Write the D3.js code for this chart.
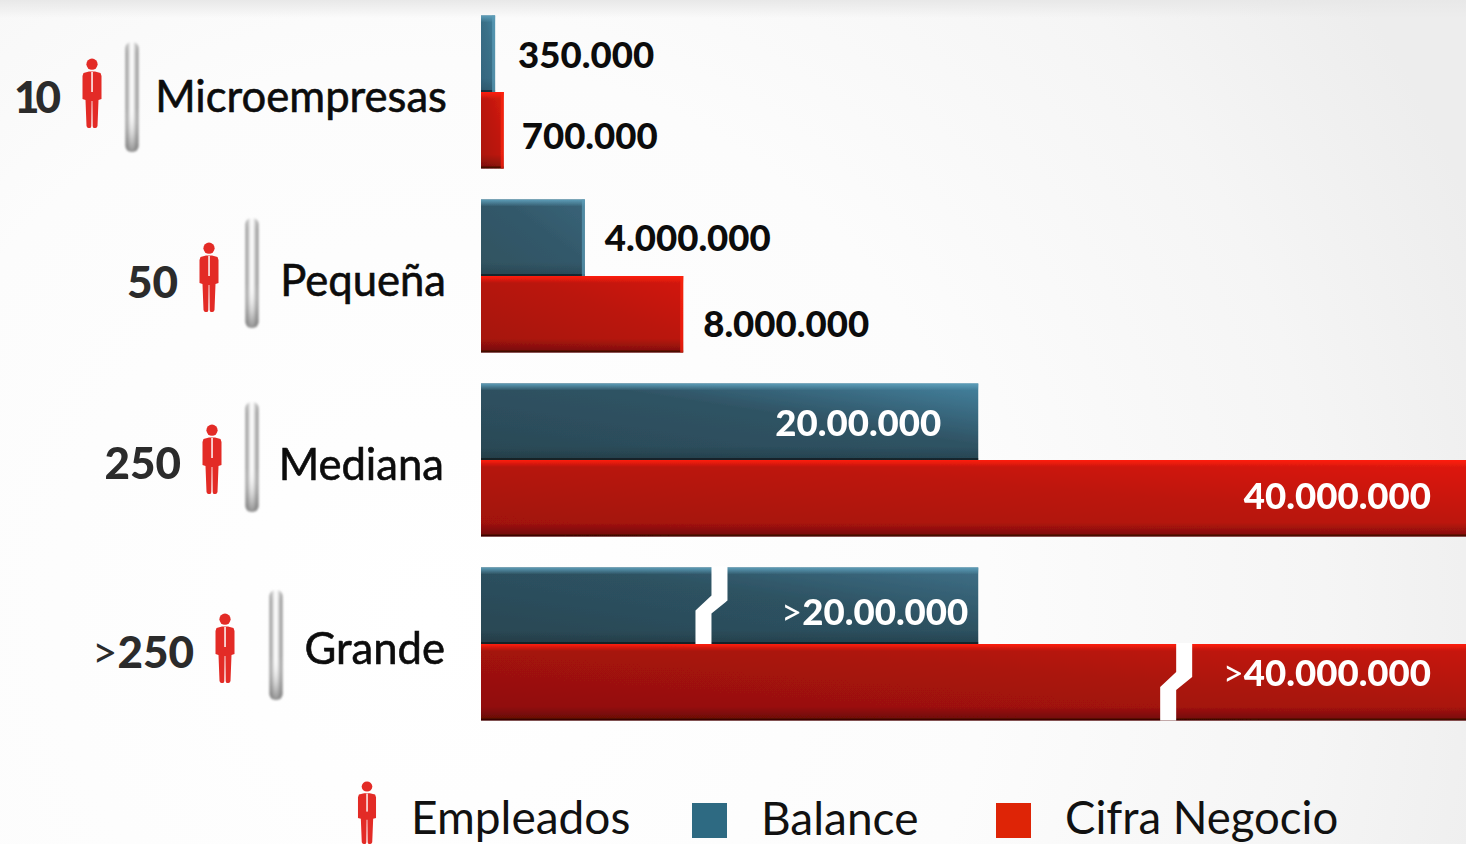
<!DOCTYPE html>
<html lang="es"><head><meta charset="utf-8">
<script src="https://cdn.jsdelivr.net/npm/d3@7/dist/d3.min.js"></script>
<style>
html,body{margin:0;padding:0;background:#fff;overflow:hidden}
svg{display:block}
text{font-family:Lato,"Open Sans",sans-serif}
</style></head><body><svg id="c" width="1466" height="844"></svg>
<script>
// ---- data ----
const categories = ["Microempresas","Pequeña","Mediana","Grande"];
const employeeLabels = ["10","50","250",">250"];
const balanceValues = [350000,4000000,20000000,20000000];
const turnoverValues = [700000,8000000,40000000,40000000];
const balanceLabels = ["350.000","4.000.000","20.00.000",">20.00.000"];
const turnoverLabels = ["700.000","8.000.000","40.000.000",">40.000.000"];
const breakBalance = [null,null,null,9150000];
const breakTurnover = [null,null,null,28050000];
const legendItems = ["Empleados","Balance","Cifra Negocio"];

// ---- layout and style ----
const W=1466,H=844;
const baseX=481;
const personX=[92,209,212,225], pillX=[132,252,252,276];
const countEnd=[57,178,181,194], labelEnd=[447,446,444,445], countSpacing=[-4,0,0,0];
const countDy=[5,6,3,8], personDy=[0,0,-2,3], pillDy=[-50,-58,-58,-54];
const balGap=[23,20,-37,-10], turnGap=[18,20,-39,-39];
const balDy=[-37,-38,-37,-32], turnDy=[44,48,36,29];
const blueStops=[["#34647d","#3a7088","#40829f"],["#30525f","#33596b","#396479"],["#2a4854","#2f5364","#44829f"],["#2a4652","#2d5262","#3f7088"]];
const redStops=[["#a8150a","#c0180b","#d81c0c"],["#a2130a","#bb160b","#d4190c"],["#9c1109","#bd150a","#e2190c"],["#8c0f08","#ab130a","#cb170b"]];
const BLUE="#2e6a82", RED="#de2406", PERSON="#e32b26";

const x=d3.scaleLinear().domain([0,40000000]).range([486.5,1470]);
const y=d3.scaleBand().domain(categories).range([0,736]).paddingInner(0).paddingOuter(0);
const rowMid=c=>y(c)+y.bandwidth()/2;
const barH=76.5;

const svg=d3.select("#c");
const defs=svg.append("defs");

const bg=defs.append("radialGradient").attr("id","bg").attr("gradientUnits","userSpaceOnUse")
  .attr("cx",430).attr("cy",620).attr("r",1120);
[[0,"#ffffff"],[.5,"#fcfcfc"],[.8,"#f5f5f5"],[1,"#ededed"]].forEach(s=>bg.append("stop").attr("offset",s[0]).attr("stop-color",s[1]));
svg.append("rect").attr("width",W).attr("height",H).attr("fill","url(#bg)");
const topFade=defs.append("linearGradient").attr("id","topFade").attr("x1",0).attr("x2",0).attr("y1",0).attr("y2",1);
topFade.append("stop").attr("offset",0).attr("stop-color","#e8e8e8");
topFade.append("stop").attr("offset",1).attr("stop-color","#e8e8e8").attr("stop-opacity",0);
svg.append("rect").attr("width",W).attr("height",18).attr("fill","url(#topFade)");

const soft=defs.append("filter").attr("id","soft").attr("x","-10%").attr("y","-10%").attr("width","120%").attr("height","120%");
soft.append("feGaussianBlur").attr("stdDeviation",0.6);
const pillBlur=defs.append("filter").attr("id","pillBlur").attr("x","-60%").attr("y","-10%").attr("width","220%").attr("height","120%");
pillBlur.append("feGaussianBlur").attr("stdDeviation",1.1);

function grad(id,stops){
  const g=defs.append("linearGradient").attr("id",id).attr("x1",0).attr("y1",1).attr("x2",1).attr("y2",0);
  g.append("stop").attr("offset",0).attr("stop-color",stops[0]);
  g.append("stop").attr("offset",.6).attr("stop-color",stops[1]);
  g.append("stop").attr("offset",1).attr("stop-color",stops[2]);
}
categories.forEach((c,i)=>{grad("b"+i,blueStops[i]);grad("r"+i,redStops[i]);});

const shadeBlue=defs.append("linearGradient").attr("id","topBlue").attr("x1",0).attr("x2",0).attr("y1",0).attr("y2",1);
shadeBlue.append("stop").attr("offset",0).attr("stop-color","#5d9db8");
shadeBlue.append("stop").attr("offset",1).attr("stop-color","#5d9db8").attr("stop-opacity",0);
const shadeRed=defs.append("linearGradient").attr("id","topRed").attr("x1",0).attr("x2",0).attr("y1",0).attr("y2",1);
shadeRed.append("stop").attr("offset",0).attr("stop-color","#ff1e0c");
shadeRed.append("stop").attr("offset",1).attr("stop-color","#ff1e0c").attr("stop-opacity",0);
const shadeLow=defs.append("linearGradient").attr("id","low").attr("x1",0).attr("x2",0).attr("y1",0).attr("y2",1);
shadeLow.append("stop").attr("offset",0).attr("stop-color","#000").attr("stop-opacity",0);
shadeLow.append("stop").attr("offset",1).attr("stop-color","#000").attr("stop-opacity",.55);

// pill gradients
const pillH=defs.append("linearGradient").attr("id","pill").attr("x1",0).attr("x2",1).attr("y1",0).attr("y2",0);
[[0,"#8a8a8a"],[.2,"#bdbdbd"],[.38,"#f4f4f4"],[.55,"#ffffff"],[.75,"#c4c4c4"],[1,"#868686"]].forEach(s=>pillH.append("stop").attr("offset",s[0]).attr("stop-color",s[1]));
const pillV=defs.append("linearGradient").attr("id","pillV").attr("x1",0).attr("x2",0).attr("y1",0).attr("y2",1);
[[0,"#fff",.25],[.1,"#fff",0],[.6,"#fff",0],[.85,"#888",.35],[1,"#777",.8]].forEach(s=>pillV.append("stop").attr("offset",s[0]).attr("stop-color",s[1]).attr("stop-opacity",s[2]));

// person symbol, 22 wide, 70 tall
const personBody="M2.5 15 L8 13.5 H14 L19.5 15 L20.5 18 V41 L17.5 42 L16.5 68 Q16 70 14.5 70 H13 Q11.8 70 11.7 68 L11.4 43 H10.6 L10.3 68 Q10.2 70 9 70 H7.5 Q6 70 5.5 68 L4.5 42 L1.5 41 V18 Z";
function person(g,cx,top,k,kx){
  const p=g.append("g").attr("transform",`translate(${cx-11*(kx||k)},${top}) scale(${kx||k},${k})`);
  p.append("circle").attr("cx",11).attr("cy",6.2).attr("r",5.6).attr("fill",PERSON);
  p.append("path").attr("d",personBody).attr("fill",PERSON);
  p.append("rect").attr("x",10.2).attr("y",14).attr("width",1.7).attr("height",20).attr("fill","#fbe3e2");
}

// rows
categories.forEach((c,i)=>{
  const m=rowMid(c), g=svg.append("g");
  const val=[balanceValues[i],turnoverValues[i]];
  const top=[m-barH,m], ids=["b"+i,"r"+i], hi=["topBlue","topRed"];
  const labelsTxt=[balanceLabels[i],turnoverLabels[i]];
  const gaps=[balGap[i],turnGap[i]], dys=[balDy[i],turnDy[i]];
  const bars=g.append("g").attr("filter","url(#soft)");
  val.forEach((v,k)=>{
    const w=x(v)-baseX;
    bars.append("rect").attr("x",baseX).attr("y",top[k]).attr("width",w).attr("height",barH).attr("fill",`url(#${ids[k]})`);
    bars.append("rect").attr("x",baseX).attr("y",top[k]).attr("width",w).attr("height",7).attr("fill",`url(#${hi[k]})`);
    bars.append("rect").attr("x",baseX).attr("y",top[k]+barH-14).attr("width",w).attr("height",14).attr("fill","url(#low)").attr("opacity",k?.55:.3);
    bars.append("rect").attr("x",baseX).attr("y",top[k]+barH-2).attr("width",w).attr("height",2).attr("fill","#000").attr("opacity",.45);
    if(i<2) bars.append("rect").attr("x",x(v)-3).attr("y",top[k]).attr("width",3).attr("height",barH).attr("fill",k?"#ff2410":"#5d9db8").attr("opacity",.7);
  });
  // axis breaks
  [[breakBalance[i],m-barH],[breakTurnover[i],m]].forEach(b=>{
    if(b[0]==null) return;
    const cx=x(b[0]), t=b[1];
    g.append("path").attr("fill","#fff").attr("d",
      d3.line()([[cx,t-1],[cx+16,t-1],[cx+16,t+33],[cx,t+46],[cx,t+barH],[cx-16,t+barH],[cx-16,t+43],[cx,t+28]])+"Z");
  });
  // values
  val.forEach((v,k)=>{
    const inside=gaps[k]<0, txt=labelsTxt[k];
    const endX=Math.min(x(v),1470);
    const t=g.append("text").attr("y",m+dys[k]).attr("dy","0.36em")
      .attr("font-size",36.6).attr("font-weight",900).attr("fill",inside?"#fff":"#0c0c0c");
    if(inside) t.attr("x",endX+gaps[k]).attr("text-anchor","end");
    else t.attr("x",endX+gaps[k]);
    if(txt[0]===">"){
      t.append("tspan").attr("font-weight",400).text(">");
      t.append("tspan").text(txt.slice(1));
    } else t.text(txt);
  });
  // left side
  g.append("text").attr("x",labelEnd[i]).attr("y",m+4).attr("dy","0.36em").attr("text-anchor","end")
    .attr("font-size",43.6).attr("font-weight",400).attr("fill","#0c0c0c")
    .attr("stroke","#0c0c0c").attr("stroke-width",0.6).text(c);
  const pw=13, py=m+pillDy[i], ph=110;
  const pl=g.append("g").attr("filter","url(#pillBlur)");
  pl.append("rect").attr("x",pillX[i]-pw/2).attr("y",py).attr("width",pw).attr("height",ph).attr("rx",6).attr("fill","url(#pill)");
  pl.append("rect").attr("x",pillX[i]-pw/2).attr("y",py).attr("width",pw).attr("height",ph).attr("rx",6).attr("fill","url(#pillV)");
  person(g,personX[i],m-34+personDy[i],1);
  const ct=g.append("text").attr("x",countEnd[i]).attr("y",m+countDy[i]).attr("dy","0.36em").attr("text-anchor","end")
    .attr("font-size",44).attr("font-weight",900).attr("fill","#2b2b2b").attr("letter-spacing",countSpacing[i]);
  const lab=employeeLabels[i];
  if(lab[0]===">"){
    ct.append("tspan").attr("font-weight",400).text(">");
    ct.append("tspan").text(lab.slice(1));
  } else ct.text(lab);
});

// legend
const lg=svg.append("g");
person(lg,367,781,0.9,0.95);
const legendX=[411,761,1065], legendColors=[null,BLUE,RED], swatchX=[null,692,996], legendSize=[46,46,45.5];
legendItems.forEach((t,i)=>{
  lg.append("text").attr("x",legendX[i]).attr("y",i?818:817).attr("dy","0.36em")
    .attr("font-size",legendSize[i]).attr("font-weight",400).attr("fill","#111").text(t);
  if(legendColors[i]) lg.append("rect").attr("x",swatchX[i]).attr("y",803).attr("width",35).attr("height",35).attr("fill",legendColors[i]);
});
</script></body></html>
